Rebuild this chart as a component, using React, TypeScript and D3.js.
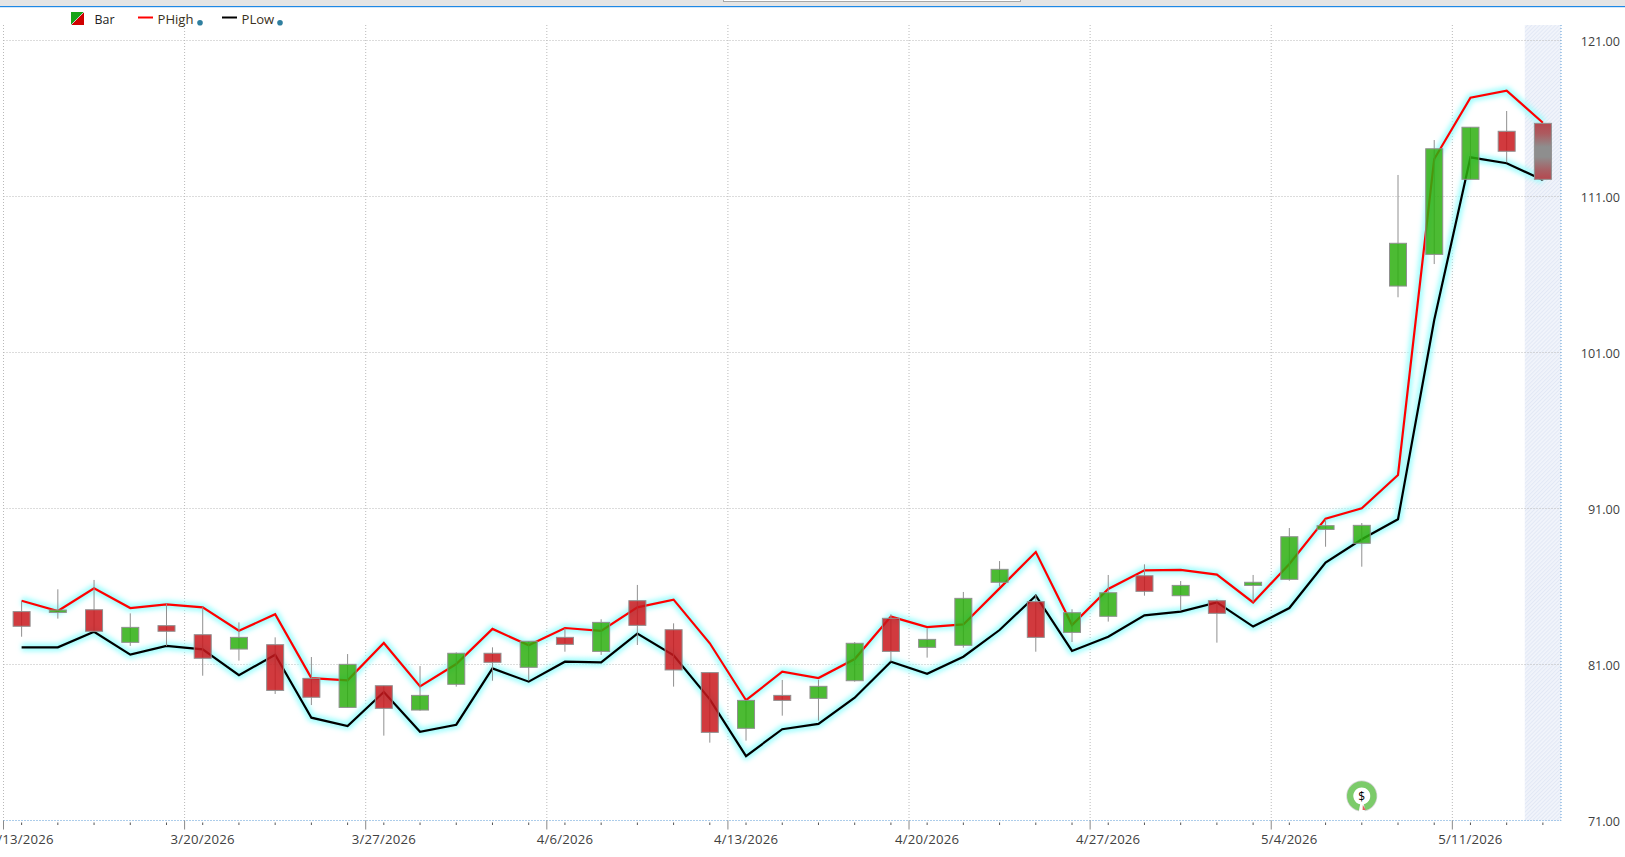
import React from "react";
import * as d3 from "d3";

const WIDTH = 1625;
const HEIGHT = 857;

const dates = [
  "3/13/2026", "3/16/2026", "3/17/2026", "3/18/2026", "3/19/2026", "3/20/2026", "3/23/2026", "3/24/2026", "3/25/2026",
  "3/26/2026", "3/27/2026", "3/30/2026", "3/31/2026", "4/1/2026", "4/2/2026", "4/6/2026", "4/7/2026", "4/8/2026",
  "4/9/2026", "4/10/2026", "4/13/2026", "4/14/2026", "4/15/2026", "4/16/2026", "4/17/2026", "4/20/2026", "4/21/2026",
  "4/22/2026", "4/23/2026", "4/24/2026", "4/27/2026", "4/28/2026", "4/29/2026", "4/30/2026", "5/1/2026", "5/4/2026",
  "5/5/2026", "5/6/2026", "5/7/2026", "5/8/2026", "5/11/2026", "5/12/2026", "5/13/2026",
];
const opens = [
  84.39, 84.34, 84.51, 82.42, 83.49, 82.91, 81.99, 82.27, 80.11, 78.25, 79.64, 78.08, 79.73, 81.72, 80.82, 82.74, 81.84,
  85.09, 83.23, 80.48, 76.91, 79.02, 78.83, 79.96, 83.96, 82.10, 82.23, 86.27, 85.03, 83.06, 84.09, 86.69, 85.41, 85.09,
  86.07, 86.46, 89.66, 88.77, 105.26, 107.29, 112.10, 115.18, 115.69,
];
const closes = [
  83.45, 84.49, 83.13, 83.38, 83.13, 81.40, 82.74, 79.34, 78.90, 81.01, 78.19, 79.02, 81.72, 81.14, 82.49, 82.29, 83.70,
  83.51, 80.65, 76.65, 78.70, 78.70, 79.60, 82.36, 81.84, 82.61, 85.24, 87.10, 82.74, 84.32, 85.60, 85.69, 86.07, 84.28,
  86.27, 89.19, 89.90, 89.92, 108.0, 114.06, 115.44, 113.90, 112.10,
];
const highs = [
  85.09, 85.82, 86.42, 84.28, 84.92, 84.71, 83.70, 82.74, 81.48, 81.67, 79.64, 80.90, 81.78, 82.10, 82.49, 83.32, 83.90,
  86.10, 83.64, 80.48, 78.71, 80.01, 80.01, 82.44, 84.22, 83.32, 85.65, 87.63, 85.46, 84.54, 86.74, 87.42, 86.35, 85.18,
  86.74, 89.75, 90.31, 90.07, 112.38, 114.62, 115.44, 116.48, 115.69,
];
const lows = [
  82.78, 83.94, 83.13, 82.19, 82.19, 80.28, 81.25, 79.11, 78.40, 78.25, 76.44, 78.04, 79.58, 79.96, 79.96, 81.82, 81.61,
  82.25, 79.58, 75.99, 76.12, 77.72, 77.40, 79.90, 81.18, 81.44, 82.08, 85.99, 81.82, 82.44, 83.75, 85.41, 84.45, 82.40,
  84.99, 86.37, 88.55, 87.27, 104.54, 106.67, 112.10, 113.19, 112.01,
];
const pHigh = [
  85.09, 84.43, 85.88, 84.62, 84.86, 84.66, 83.17, 84.22, 80.13, 79.99, 82.38, 79.60, 81.03, 83.28, 82.23, 83.34, 83.15,
  84.66, 85.16, 82.36, 78.71, 80.54, 80.13, 81.35, 84.07, 83.40, 83.57, 85.88, 88.21, 83.53, 85.84, 87.04, 87.06, 86.76,
  84.98, 87.44, 90.35, 91.01, 93.15, 113.40, 117.33, 117.78, 115.73,
];
const pLow = [
  82.10, 82.10, 83.10, 81.63, 82.19, 81.97, 80.31, 81.63, 77.59, 77.06, 79.24, 76.69, 77.14, 80.75, 79.90, 81.18, 81.14,
  82.98, 81.59, 78.77, 75.13, 76.85, 77.19, 78.87, 81.18, 80.41, 81.50, 83.21, 85.41, 81.87, 82.78, 84.15, 84.39, 84.98,
  83.43, 84.62, 87.53, 89.03, 90.31, 103.08, 113.51, 113.13, 112.06,
];
const priceTicks = [71, 81, 91, 101, 111, 121];
const dateTicks = ["3/13/2026", "3/20/2026", "3/27/2026", "4/6/2026", "4/13/2026", "4/20/2026", "4/27/2026", "5/4/2026", "5/11/2026"];
const legendItems = [
  { name: "PHigh", color: "#ff0000" },
  { name: "PLow", color: "#000000" },
];

const FONT = "'Open Sans', 'Noto Sans', sans-serif";
const GRID = "#b9b9b9";
const BORDER = "#5b9bd5";
const GREEN = "#2daf0f";
const RED = "#c9181c";
const OUTLINE = "#909090";
const GLOW = "#a0fdfd";

const LEFT = 3.5;
const RIGHT = 1561;
const TOP = 25;
const BOTTOM = 820.5;

export default function App() {
  const x = d3.scaleBand<string>().domain(dates).range([LEFT, RIGHT]);
  const y = d3.scaleLinear().domain([71, 121]).range([820.5, 40.5]);
  const cx = (d: string) => (x(d) as number) + x.bandwidth() / 2;
  const bodyW = 17;
  const lineGen = d3
    .line<number>()
    .x((_, i) => cx(dates[i]))
    .y((v) => y(v));
  const ring = d3.arc()({
    innerRadius: 8.5,
    outerRadius: 14.8,
    startAngle: Math.PI * 1.06,
    endAngle: Math.PI * 2.92,
  }) as string;
  const last = dates.length - 1;
  const lastX = x(dates[last]) as number;

  return (
    <svg
      width={WIDTH}
      height={HEIGHT}
      viewBox={`0 0 ${WIDTH} ${HEIGHT}`}
      style={{ position: "absolute", left: 0, top: 0, display: "block", background: "#fff" }}
    >
      <defs>
        <filter id="glow" x="-5%" y="-5%" width="110%" height="110%" filterUnits="objectBoundingBox">
          <feGaussianBlur stdDeviation="2.4" />
        </filter>
        <filter id="glowL" x="-50%" y="-800%" width="200%" height="1700%">
          <feGaussianBlur stdDeviation="2.2" />
        </filter>
        <pattern id="hatch" width="2.8" height="2.8" patternUnits="userSpaceOnUse" patternTransform="rotate(45)">
          <rect width="2.8" height="2.8" fill="#f1f4fb" />
          <rect width="1" height="2.8" fill="#e2e8f5" />
        </pattern>
        <linearGradient id="liveBar" x1="0" y1="0" x2="0" y2="1">
          <stop offset="0" stopColor="#b5484f" />
          <stop offset="0.18" stopColor="#ad5a5f" />
          <stop offset="0.42" stopColor="#8e8e8e" />
          <stop offset="0.6" stopColor="#8e8e8e" />
          <stop offset="0.85" stopColor="#a95d62" />
          <stop offset="1" stopColor="#b5484f" />
        </linearGradient>
        <linearGradient id="legendSplit" x1="0" y1="0" x2="1" y2="1">
          <stop offset="0.48" stopColor="#17a317" />
          <stop offset="0.48" stopColor="#c8c8c8" />
          <stop offset="0.53" stopColor="#c8c8c8" />
          <stop offset="0.53" stopColor="#d00000" />
        </linearGradient>
      </defs>

      {/* window chrome */}
      <rect x={0} y={0} width={WIDTH} height={6} fill="#e5e5e5" />
      <rect x={0} y={6} width={WIDTH} height={1.2} fill="#1e88e5" />
      <rect x={723.5} y={-2} width={297} height={3.5} fill="#fff" stroke="#a8a8a8" strokeWidth={1} />

      {/* forecast band */}
      <rect x={lastX} y={TOP} width={RIGHT - lastX} height={BOTTOM - TOP} fill="url(#hatch)" />

      {/* grid */}
      {priceTicks.slice(1).map((t) => (
        <line key={t} x1={LEFT} x2={RIGHT} y1={y(t)} y2={y(t)} stroke={GRID} strokeDasharray="1 2" />
      ))}
      {dateTicks.map((d) => (
        <line
          key={d}
          x1={x(d)}
          x2={x(d)}
          y1={TOP}
          y2={BOTTOM}
          stroke={GRID}
          strokeDasharray="1 2"
        />
      ))}
      <line x1={RIGHT} x2={RIGHT} y1={TOP} y2={BOTTOM} stroke={BORDER} strokeDasharray="1 2" />
      <line x1={LEFT} x2={RIGHT} y1={BOTTOM} y2={BOTTOM} stroke={BORDER} strokeDasharray="1 2" />

      {/* glow + lines */}
      {[pHigh, pLow].map((s, i) => (
        <path
          key={i}
          d={lineGen(s) as string}
          fill="none"
          stroke={GLOW}
          strokeWidth={8}
          strokeLinejoin="round"
          filter="url(#glow)"
        />
      ))}
      <path d={lineGen(pHigh) as string} fill="none" stroke="#ff0000" strokeWidth={2.2} strokeLinejoin="miter" />
      <path d={lineGen(pLow) as string} fill="none" stroke="#000000" strokeWidth={2.2} strokeLinejoin="miter" />

      {/* candles */}
      {dates.map((d, i) => {
        const up = closes[i] >= opens[i];
        const top = y(Math.max(opens[i], closes[i]));
        const bot = y(Math.min(opens[i], closes[i]));
        const c = cx(d);
        const isLive = i === last;
        return (
          <g key={d}>
            <line x1={c} x2={c} y1={y(highs[i])} y2={y(lows[i])} stroke={OUTLINE} strokeWidth={1} />
            <rect
              x={c - bodyW / 2}
              y={top}
              width={bodyW}
              height={Math.max(bot - top, 1)}
              fill={isLive ? "url(#liveBar)" : up ? GREEN : RED}
              fillOpacity={isLive ? 1 : 0.85}
              stroke={OUTLINE}
              strokeWidth={1}
            />
          </g>
        );
      })}

      {/* x axis ticks */}
      {dates.map((d) => (
        <line key={d} x1={cx(d)} x2={cx(d)} y1={822.5} y2={825} stroke="#555" strokeWidth={1} />
      ))}
      {dateTicks.map((d) => (
        <g key={d}>
          <line x1={x(d)} x2={x(d)} y1={BOTTOM} y2={829.5} stroke="#8a8a8a" strokeWidth={1} />
          <text
            x={cx(d)}
            y={839.2}
            textAnchor="middle"
            dominantBaseline="central"
            fontFamily={FONT}
            fontSize={13.2}
            letterSpacing={0.2}
            fill="#3f3f3f"
          >
            {d}
          </text>
        </g>
      ))}

      {/* y axis labels */}
      {priceTicks.map((t) => (
        <text
          key={t}
          x={1620}
          y={y(t) + 0.5}
          textAnchor="end"
          dominantBaseline="central"
          fontFamily={FONT}
          fontSize={12.6}
          fill="#3f3f3f"
        >
          {t.toFixed(2)}
        </text>
      ))}

      {/* legend */}
      <rect x={71} y={12} width={13} height={13} fill="url(#legendSplit)" />
      <text x={94.5} y={19} dominantBaseline="central" fontFamily={FONT} fontSize={12.4} fill="#222">
        Bar
      </text>
      {legendItems.map((it, i) => {
        const lx = i === 0 ? 138 : 222;
        const tx = i === 0 ? 157.5 : 241.5;
        const dotX = i === 0 ? 200 : 280;
        return (
          <g key={it.name}>
            <line x1={lx} x2={lx + 15} y1={17.5} y2={17.5} stroke={GLOW} strokeWidth={7} filter="url(#glowL)" />
            <line x1={lx} x2={lx + 15} y1={17.5} y2={17.5} stroke={it.color} strokeWidth={2} />
            <text x={tx} y={19} dominantBaseline="central" fontFamily={FONT} fontSize={13.1} fill="#3a3020">
              {it.name}
            </text>
            <circle cx={dotX} cy={22.7} r={2.8} fill="#2f7f9f" />
          </g>
        );
      })}

      {/* dividend marker */}
      <g transform={`translate(${cx(dates[37])},796)`}>
        <circle r={15.5} fill="#c4c4c4" opacity={0.75} />
        <circle r={9} fill="#fff" />
        <path d={ring} fill="#7ccb6a" />
        <path d="M-3,16 L3,16 L1.5,8 L-1.5,8 Z" fill="#fff" />
        <path d="M1,9 L4,14 L0.8,14 Z" fill="#e06060" />
        <text x={0} y={0.5} textAnchor="middle" dominantBaseline="central" fontFamily={FONT} fontSize={12} fill="#000">
          $
        </text>
      </g>
    </svg>
  );
}
